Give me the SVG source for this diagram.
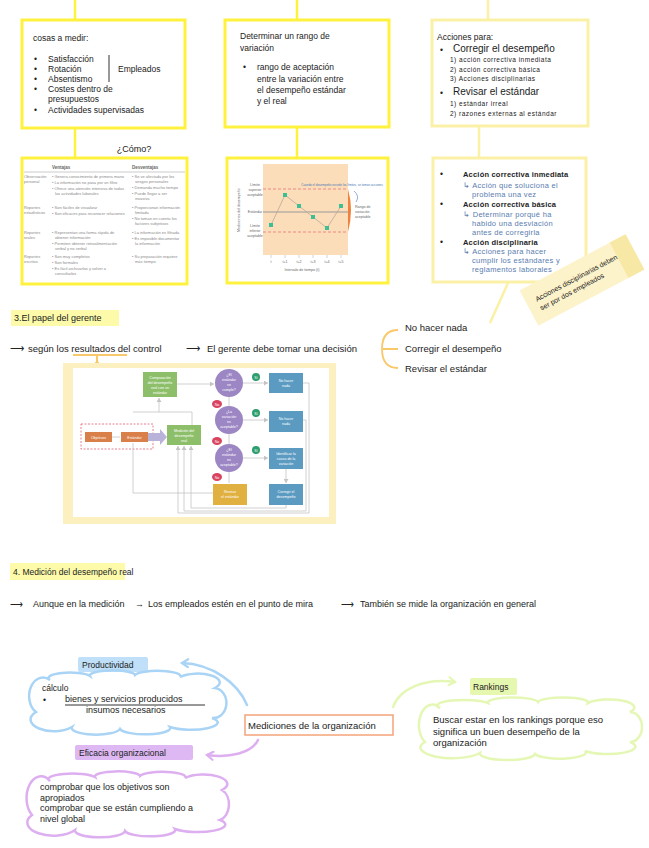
<svg xmlns="http://www.w3.org/2000/svg" width="649" height="848" viewBox="0 0 649 848">
<defs>
<style>
.t{font-family:"Liberation Sans",Arial,sans-serif;fill:#222;font-size:8.5px}
.s{font-size:6.5px;letter-spacing:0.5px}
.b{font-family:"Liberation Sans",Arial,sans-serif;fill:#5A7DB0;font-size:7.5px;letter-spacing:0.3px}
.k{font-family:"Liberation Sans",Arial,sans-serif;fill:#222;font-size:7.5px;font-weight:bold;letter-spacing:0.2px}
.yb{fill:#fff;stroke:#FFF23E;stroke-width:3}
.yp{fill:#fff;stroke:#FBF1A6;stroke-width:3}
.yl{stroke:#FFF23E;stroke-width:2.5;fill:none}
.tb{font-family:"Liberation Sans",Arial,sans-serif;fill:#8a8a8a;font-size:4px}
.th{font-family:"Liberation Sans",Arial,sans-serif;fill:#666;font-size:4.5px;font-weight:bold}
.ch{font-family:"Liberation Sans",Arial,sans-serif;fill:#666;font-size:3.6px}
.fw{font-family:"Liberation Sans",Arial,sans-serif;fill:#fff;font-size:3.6px;text-anchor:middle}
.gl{stroke:#c4c4c4;stroke-width:0.8;fill:none}
.hl{font-family:"Liberation Sans",Arial,sans-serif;fill:#222;font-size:9px}
</style>
<marker id="ga" markerWidth="5" markerHeight="5" refX="4" refY="2.5" orient="auto" markerUnits="userSpaceOnUse"><path d="M0,0 L4,2.5 L0,5 Z" fill="#c4c4c4"/></marker>
<marker id="ab" markerWidth="10" markerHeight="10" refX="8" refY="5" orient="auto" markerUnits="userSpaceOnUse"><path d="M2,1 L8,5 L2,9" fill="none" stroke="#A9D4F5" stroke-width="2.2" stroke-linecap="round"/></marker>
<marker id="ap" markerWidth="10" markerHeight="10" refX="8" refY="5" orient="auto" markerUnits="userSpaceOnUse"><path d="M2,1 L8,5 L2,9" fill="none" stroke="#DDAEF0" stroke-width="2.2" stroke-linecap="round"/></marker>
<marker id="al" markerWidth="10" markerHeight="10" refX="8" refY="5" orient="auto" markerUnits="userSpaceOnUse"><path d="M2,1 L8,5 L2,9" fill="none" stroke="#E5F7B5" stroke-width="2.2" stroke-linecap="round"/></marker>
</defs>
<rect width="649" height="848" fill="#fff"/>

<g id="connectors">
<path class="yl" d="M75,0 V20 M75,128 V158 M297,0 V20 M297,127 V158"/>
<path d="M488,0 V20 M479,126 V158 M508,283 L490,323" stroke="#FBF1A6" stroke-width="2.5" fill="none"/>
<path d="M382,349 C382,335 388,330 398,330 M382,349 C382,363 388,368 398,368 M383,349 H398" stroke="#F9C86A" stroke-width="1.8" fill="none"/>
<path d="M73,355 H127 M97,355 V364" stroke="#F9C86A" stroke-width="2" fill="none"/>
<circle cx="97" cy="364" r="2.5" fill="#F9C86A"/>
<path d="M247,705 C238,683 212,664 182,663" stroke="#A9D4F5" stroke-width="2.5" fill="none" stroke-linecap="round" marker-end="url(#ab)"/>
<path d="M258,740 C252,753 230,758 207,755" stroke="#DDAEF0" stroke-width="2.5" fill="none" stroke-linecap="round" marker-end="url(#ap)"/>
<path d="M393,707 C400,688 425,678 455,682" stroke="#E5F7B5" stroke-width="2.5" fill="none" stroke-linecap="round" marker-end="url(#al)"/>
</g>

<g id="box-cosas">
<rect class="yb" x="22" y="20" width="163" height="108"/>
<text class="t" x="33" y="41">cosas a medir:</text>
<text class="t" x="34" y="62">•</text><text class="t" x="48" y="62">Satisfacción</text>
<text class="t" x="34" y="72">•</text><text class="t" x="48" y="72">Rotación</text>
<text class="t" x="34" y="82">•</text><text class="t" x="48" y="82">Absentismo</text>
<text class="t" x="34" y="92">•</text><text class="t" x="48" y="92">Costes dentro de</text>
<text class="t" x="48" y="102">presupuestos</text>
<text class="t" x="34" y="113">•</text><text class="t" x="48" y="113">Actividades supervisadas</text>
<line x1="109" y1="55" x2="109" y2="82" stroke="#333" stroke-width="1"/>
<text class="t" x="118" y="72">Empleados</text>
</g>

<g id="box-rango">
<rect class="yb" x="225" y="20" width="164" height="107"/>
<text class="t" x="240" y="39">Determinar un rango de</text>
<text class="t" x="240" y="51">variación</text>
<text class="t" x="243" y="70">•</text>
<text class="t" x="257" y="70">rango de aceptación</text>
<text class="t" x="257" y="82">entre la variación entre</text>
<text class="t" x="257" y="93">el desempeño estándar</text>
<text class="t" x="257" y="104">y el real</text>
</g>

<g id="box-acciones">
<rect class="yp" x="432" y="20" width="156" height="106"/>
<text class="t" x="437" y="40">Acciones para:</text>
<text class="t" x="440" y="53">•</text>
<text class="t" x="453" y="52" style="font-size:10px">Corregir el desempeño</text>
<text class="t s" x="450" y="62">1) acción correctiva inmediata</text>
<text class="t s" x="450" y="72">2) acción correctiva básica</text>
<text class="t s" x="450" y="81">3) Acciones disciplinarias</text>
<text class="t" x="440" y="96">•</text>
<text class="t" x="453" y="95" style="font-size:10px">Revisar el estándar</text>
<text class="t s" x="450" y="106">1) estándar irreal</text>
<text class="t s" x="450" y="116">2) razones externas al estándar</text>
</g>

<g id="como">
<text class="t" x="134" y="152" text-anchor="middle" style="font-size:9px">¿Cómo?</text>
</g>

<g id="box-tabla">
<rect class="yb" x="22" y="158" width="165" height="126"/>
<text class="th" x="52" y="169">Ventajas</text>
<text class="th" x="132" y="169">Desventajas</text>
<line x1="24" y1="172" x2="185" y2="172" stroke="#aaa" stroke-width="0.6"/>
<text class="tb" x="24" y="178">Observación</text><text class="tb" x="24" y="183">personal</text>
<text class="tb" x="52" y="178">• Genera conocimiento de primera mano</text>
<text class="tb" x="52" y="184">• La información no pasa por un filtro</text>
<text class="tb" x="52" y="190">• Ofrece una atención intensiva de todas</text>
<text class="tb" x="55" y="195">las actividades laborales</text>
<text class="tb" x="132" y="178">• Se ve afectada por los</text>
<text class="tb" x="135" y="183">sesgos personales</text>
<text class="tb" x="132" y="189">• Demanda mucho tiempo</text>
<text class="tb" x="132" y="195">• Puede llegar a ser</text>
<text class="tb" x="135" y="200">invasiva</text>
<text class="tb" x="24" y="209">Reportes</text><text class="tb" x="24" y="214">estadísticos</text>
<text class="tb" x="52" y="209">• Son fáciles de visualizar</text>
<text class="tb" x="52" y="215">• Son eficaces para reconocer relaciones</text>
<text class="tb" x="132" y="209">• Proporcionan información</text>
<text class="tb" x="135" y="214">limitada</text>
<text class="tb" x="132" y="220">• No toman en cuenta los</text>
<text class="tb" x="135" y="225">factores subjetivos</text>
<text class="tb" x="24" y="234">Reportes</text><text class="tb" x="24" y="239">orales</text>
<text class="tb" x="52" y="234">• Representan una forma rápida de</text>
<text class="tb" x="55" y="239">obtener información</text>
<text class="tb" x="52" y="245">• Permiten obtener retroalimentación</text>
<text class="tb" x="55" y="250">verbal y no verbal</text>
<text class="tb" x="132" y="234">• La información es filtrada</text>
<text class="tb" x="132" y="240">• Es imposible documentar</text>
<text class="tb" x="135" y="245">la información</text>
<text class="tb" x="24" y="258">Reportes</text><text class="tb" x="24" y="263">escritos</text>
<text class="tb" x="52" y="258">• Son muy completos</text>
<text class="tb" x="52" y="264">• Son formales</text>
<text class="tb" x="52" y="270">• Es fácil archivarlos y volver a</text>
<text class="tb" x="55" y="275">consultarlos</text>
<text class="tb" x="132" y="258">• Su preparación requiere</text>
<text class="tb" x="135" y="263">más tiempo</text>
</g>

<g id="box-grafica">
<rect class="yb" x="227" y="158" width="161" height="125"/>
<rect x="263" y="164" width="85" height="91" fill="#FCDDBA"/>
<line x1="263" y1="189" x2="348" y2="189" stroke="#E8757A" stroke-width="0.8" stroke-dasharray="3,2"/>
<line x1="263" y1="232" x2="348" y2="232" stroke="#E8757A" stroke-width="0.8" stroke-dasharray="3,2"/>
<line x1="263" y1="212" x2="348" y2="212" stroke="#999" stroke-width="1"/>
<polyline points="271,225 285,195 299,206 313,217 327,228 341,206" fill="none" stroke="#B8A898" stroke-width="0.8"/>
<g fill="#3DBE95">
<rect x="269" y="223" width="4" height="4"/><rect x="283" y="193" width="4" height="4"/><rect x="297" y="204" width="4" height="4"/>
<rect x="311" y="215" width="4" height="4"/><rect x="325" y="226" width="4" height="4"/><rect x="339" y="204" width="4" height="4"/>
</g>
<path d="M348,189 Q354,210 348,232 Z" fill="#F0813A"/>
<path d="M271,255 V258 M285,255 V258 M299,255 V258 M313,255 V258 M327,255 V258 M341,255 V258" stroke="#bbb" stroke-width="0.6"/>
<text class="ch" x="255" y="186" text-anchor="middle">Límite</text>
<text class="ch" x="255" y="191" text-anchor="middle">superior</text>
<text class="ch" x="255" y="196" text-anchor="middle">aceptable</text>
<text class="ch" x="255" y="213" text-anchor="middle">Estándar</text>
<text class="ch" x="255" y="227" text-anchor="middle">Límite</text>
<text class="ch" x="255" y="232" text-anchor="middle">inferior</text>
<text class="ch" x="255" y="237" text-anchor="middle">aceptable</text>
<text class="ch" x="240" y="210" text-anchor="middle" transform="rotate(-90 240 210)">Mediciones del desempeño</text>
<text class="ch" x="271" y="263" text-anchor="middle">t</text>
<text class="ch" x="285" y="263" text-anchor="middle">t+1</text>
<text class="ch" x="299" y="263" text-anchor="middle">t+2</text>
<text class="ch" x="313" y="263" text-anchor="middle">t+3</text>
<text class="ch" x="327" y="263" text-anchor="middle">t+4</text>
<text class="ch" x="341" y="263" text-anchor="middle">t+5</text>
<text class="ch" x="302" y="271" text-anchor="middle">Intervalo de tiempo (t)</text>
<text class="ch" x="342" y="186" text-anchor="middle" style="fill:#4A78B5;font-size:3px">Cuando el desempeño excede los límites, se toman acciones</text>
<path d="M354,191 Q360,196 356,202" stroke="#4A78B5" stroke-width="0.6" fill="none"/>
<text class="ch" x="355" y="208">Rango de</text>
<text class="ch" x="355" y="213">variación</text>
<text class="ch" x="355" y="218">aceptable</text>
</g>

<g id="box-tipos">
<rect class="yp" x="433" y="158" width="153" height="124"/>
<text class="t" x="440" y="177">•</text><text class="k" x="463" y="177">Acción correctiva inmediata</text>
<text class="b" x="463" y="188">↳ Acción que soluciona el</text>
<text class="b" x="472" y="197">problema una vez</text>
<text class="t" x="440" y="207">•</text><text class="k" x="463" y="207">Acción correctiva básica</text>
<text class="b" x="463" y="217">↳ Determinar porqué ha</text>
<text class="b" x="472" y="226">habido una desviación</text>
<text class="b" x="472" y="235">antes de corregirla</text>
<text class="t" x="440" y="245">•</text><text class="k" x="463" y="245">Acción disciplinaria</text>
<text class="b" x="463" y="254">↳ Acciones para hacer</text>
<text class="b" x="472" y="263">cumplir los estándares y</text>
<text class="b" x="472" y="272">reglamentos laborales</text>
</g>

<g id="nota" transform="translate(582,280) rotate(-28)">
<rect x="-60" y="-20" width="120" height="40" fill="#FCF3CB"/>
<rect x="42" y="-20" width="18" height="40" fill="#F8E8A6"/>
<text class="t" x="-50" y="-2" style="font-size:7px">Acciones disciplinarias deben</text>
<text class="t" x="-50" y="8" style="font-size:7px">ser por dos empleados</text>
</g>

<g id="titulo-3">
<rect x="11" y="310" width="108" height="16" fill="#FDFBAA"/>
<text class="hl" x="14" y="321">3.El papel del gerente</text>
</g>

<g id="linea-3">
<text class="t" x="10" y="352" style="font-size:9.5px">⟶</text>
<text class="t" x="28" y="352" style="font-size:9.5px">según los resultados del control</text>
<text class="t" x="186" y="352" style="font-size:9.5px">⟶</text>
<text class="t" x="207" y="352" style="font-size:9.5px">El gerente debe tomar una decisión</text>
<text class="t" x="405" y="331" style="font-size:9.5px">No hacer nada</text>
<text class="t" x="405" y="352" style="font-size:9.5px">Corregir el desempeño</text>
<text class="t" x="405" y="372" style="font-size:9.5px">Revisar el estándar</text>
</g>

<g id="flujo">
<rect x="63" y="363" width="273" height="161" fill="#FDF0C0"/>
<rect x="73" y="368" width="256" height="149" fill="#fff"/>
<rect x="81" y="424" width="72" height="25" fill="none" stroke="#E0607A" stroke-width="0.8" stroke-dasharray="2,1.5"/>
<g class="gl">
<path d="M177,384 H214" marker-end="url(#ga)"/>
<path d="M243,383 H268" marker-end="url(#ga)"/>
<path d="M243,420 H268" marker-end="url(#ga)"/>
<path d="M243,458 H268" marker-end="url(#ga)"/>
<path d="M229,397 V406"/><path d="M229,434 V444"/><path d="M229,472 V483"/>
<path d="M286,469 V483" marker-end="url(#ga)"/>
<path d="M112,437 H120"/>
<path d="M159,412 V398" marker-end="url(#ga)"/>
<path d="M133,412 H192 V425"/>
<path d="M133,443 V493 H213"/>
<path d="M303,383 H309 V513 H178 V446" marker-end="url(#ga)"/>
<path d="M303,420 H306 V511 H184 V446" marker-end="url(#ga)"/>
<path d="M286,505 V508 H191 V446" marker-end="url(#ga)"/>
</g>
<path d="M148,433 H160 V429 L167,437 L160,445 V441 H148 Z" fill="#B9B3DA"/>
<rect x="143" y="372" width="34" height="25" fill="#8DBF6A"/>
<text class="fw" x="160" y="379">Comparación</text><text class="fw" x="160" y="384">del desempeño</text><text class="fw" x="160" y="389">real con un</text><text class="fw" x="160" y="394">estándar</text>
<rect x="85" y="432" width="27" height="10" fill="#D9804A"/>
<text class="fw" x="98.5" y="438.5">Objetivos</text>
<rect x="121" y="432" width="27" height="10" fill="#D9804A"/>
<text class="fw" x="134.5" y="438.5">Estándar</text>
<rect x="167" y="425" width="34" height="20" fill="#8DBF6A"/>
<text class="fw" x="184" y="432">Medición del</text><text class="fw" x="184" y="437">desempeño</text><text class="fw" x="184" y="442">real</text>
<g fill="#9C86C4">
<circle cx="229" cy="383" r="14"/><circle cx="229" cy="420" r="14"/><circle cx="229" cy="458" r="14"/>
</g>
<text class="fw" x="229" y="376">¿El</text><text class="fw" x="229" y="381">estándar</text><text class="fw" x="229" y="386">se</text><text class="fw" x="229" y="391">cumple?</text>
<text class="fw" x="229" y="413">¿La</text><text class="fw" x="229" y="418">variación</text><text class="fw" x="229" y="423">es</text><text class="fw" x="229" y="428">aceptable?</text>
<text class="fw" x="229" y="451">¿El</text><text class="fw" x="229" y="456">estándar</text><text class="fw" x="229" y="461">es</text><text class="fw" x="229" y="466">aceptable?</text>
<g fill="#2E9E6E">
<circle cx="256" cy="377" r="4"/><circle cx="256" cy="413" r="4"/><circle cx="256" cy="450" r="4"/>
</g>
<text class="fw" x="256" y="378.5">Sí</text><text class="fw" x="256" y="414.5">Sí</text><text class="fw" x="256" y="451.5">Sí</text>
<g fill="#D9435E">
<ellipse cx="217" cy="404" rx="5" ry="4"/><ellipse cx="217" cy="441" rx="5" ry="4"/><ellipse cx="217" cy="477" rx="5" ry="4"/>
</g>
<text class="fw" x="217" y="405.5">No</text><text class="fw" x="217" y="442.5">No</text><text class="fw" x="217" y="478.5">No</text>
<g fill="#5B9BC2">
<rect x="269" y="373" width="34" height="20"/><rect x="269" y="411" width="34" height="21"/>
<rect x="269" y="448" width="34" height="21"/><rect x="269" y="484" width="34" height="21"/>
</g>
<text class="fw" x="286" y="382">No hacer</text><text class="fw" x="286" y="387">nada</text>
<text class="fw" x="286" y="420">No hacer</text><text class="fw" x="286" y="425">nada</text>
<text class="fw" x="286" y="455">Identificar la</text><text class="fw" x="286" y="460">causa de la</text><text class="fw" x="286" y="465">variación</text>
<text class="fw" x="286" y="493">Corregir el</text><text class="fw" x="286" y="498">desempeño</text>
<rect x="213" y="484" width="34" height="21" fill="#E0B040"/>
<text class="fw" x="230" y="493">Revisar</text><text class="fw" x="230" y="498">el estándar</text>
</g>

<g id="titulo-4">
<rect x="10" y="563" width="115" height="17" fill="#FDFBAA"/>
<text class="hl" x="13" y="575" style="font-size:8.5px">4. Medición del desempeño real</text>
</g>

<g id="linea-4">
<text class="t" x="10" y="607" style="font-size:9px">⟶</text>
<text class="t" x="33" y="607" style="font-size:9px">Aunque en la medición</text>
<text class="t" x="135" y="607" style="font-size:9px">→</text>
<text class="t" x="148" y="607" style="font-size:9px">Los empleados estén en el punto de mira</text>
<text class="t" x="341" y="607" style="font-size:9px">⟶</text>
<text class="t" x="360" y="607" style="font-size:9px">También se mide la organización en general</text>
</g>

<g id="mediciones">
<rect x="245" y="715" width="148" height="20" fill="#fff" stroke="#F4A37A" stroke-width="1.5"/>
<text class="t" x="248" y="729" style="font-size:9.5px">Mediciones de la organización</text>
</g>

<g id="productividad">
<rect x="78" y="657" width="70" height="15" rx="2" fill="#BFE0F8"/>
<text class="t" x="82" y="668" style="font-size:8.5px">Productividad</text>
<path d="M50,680 A20,5 0 0 1 90,676 A22,5 0 0 1 135,675 A22,5 0 0 1 180,677 A20,8 0 0 1 215,688 A12,14 0 0 1 212,718 A22,6 0 0 1 170,727 A24,6 0 0 1 120,729 A22,6 0 0 1 72,727 A20,10 0 0 1 36,712 A12,16 0 0 1 50,680 Z" fill="none" stroke="#A9D4F5" stroke-width="2.5"/>
<text class="t" x="42" y="691" style="font-size:8.5px">cálculo</text>
<text class="t" x="43" y="703" style="font-size:8.5px">•</text>
<text class="t" x="65" y="702" style="font-size:9px">bienes y servicios producidos</text>
<line x1="65" y1="705" x2="205" y2="705" stroke="#333" stroke-width="1"/>
<text class="t" x="86" y="713" style="font-size:9px">insumos necesarios</text>
</g>

<g id="eficacia">
<rect x="75" y="745" width="118" height="15" rx="2" fill="#DDB8F2"/>
<text class="t" x="79" y="756" style="font-size:8.5px">Eficacia organizacional</text>
<path d="M50,781 A22,5 0 0 1 95,777 A22,5 0 0 1 140,776 A22,5 0 0 1 185,778 A20,8 0 0 1 222,790 A12,16 0 0 1 220,820 A22,6 0 0 1 175,829 A24,6 0 0 1 125,831 A22,6 0 0 1 75,830 A20,10 0 0 1 32,815 A12,18 0 0 1 50,781 Z" fill="none" stroke="#DDAEF0" stroke-width="2.5"/>
<text class="t" x="40" y="790" style="font-size:9px">comprobar que los objetivos son</text>
<text class="t" x="40" y="801" style="font-size:9px">apropiados</text>
<text class="t" x="40" y="811" style="font-size:9px">comprobar que se están cumpliendo a</text>
<text class="t" x="40" y="822" style="font-size:9px">nivel global</text>
</g>

<g id="rankings">
<rect x="470" y="678" width="47" height="17" rx="2" fill="#E6F7B0"/>
<text class="t" x="473" y="690" style="font-size:8.5px">Rankings</text>
<path d="M440,708 A24,5 0 0 1 488,703 A25,5 0 0 1 538,702 A25,5 0 0 1 588,703 A22,7 0 0 1 630,712 A12,15 0 0 1 630,742 A22,6 0 0 1 585,751 A25,6 0 0 1 535,754 A25,6 0 0 1 480,753 A24,8 0 0 1 425,742 A12,18 0 0 1 440,708 Z" fill="none" stroke="#E5F7B5" stroke-width="2.5"/>
<text class="t" x="433" y="723" style="font-size:9.5px">Buscar estar en los rankings porque eso</text>
<text class="t" x="433" y="735" style="font-size:9.5px">significa un buen desempeño de la</text>
<text class="t" x="433" y="746" style="font-size:9.5px">organización</text>
</g>
</svg>
